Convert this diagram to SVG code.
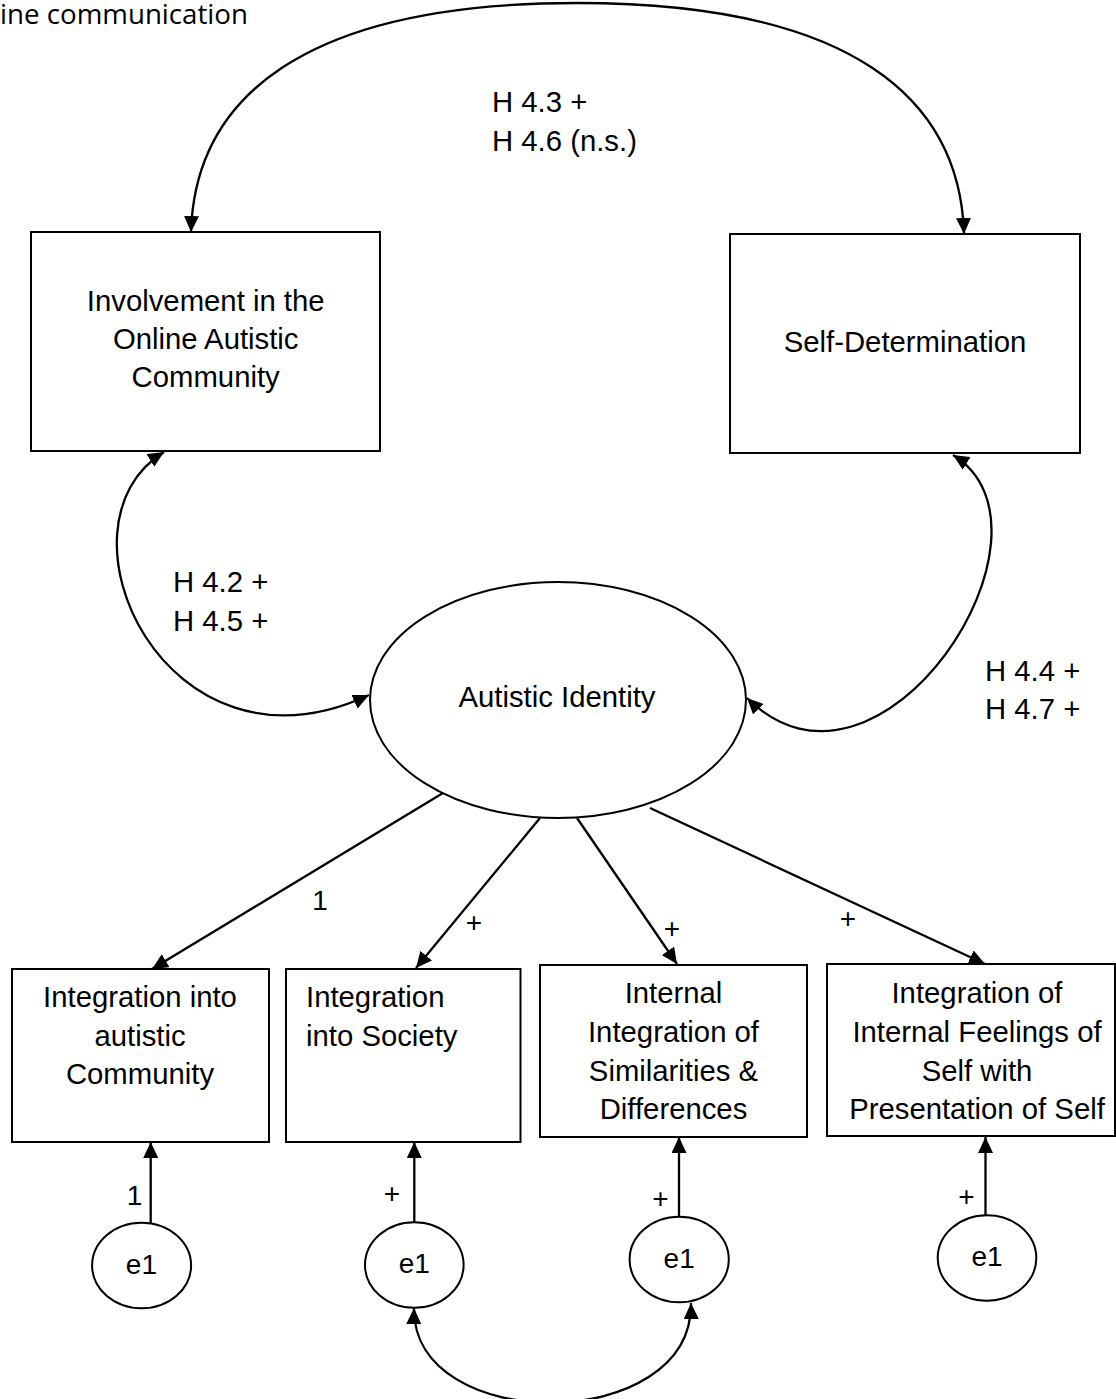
<svg xmlns="http://www.w3.org/2000/svg" width="1116" height="1399" viewBox="0 0 1116 1399">
<style>
  .box { fill: #ffffff; stroke: #000000; stroke-width: 2; }
  .ell { fill: #ffffff; stroke: #000000; stroke-width: 2; }
  .t { font-family: "Liberation Sans", Arial, sans-serif; font-size: 29.3px; fill: #000000; }
  .s { font-family: "Liberation Sans", Arial, sans-serif; font-size: 28px; fill: #000000; }
  .c { text-anchor: middle; }
  .line { fill: none; stroke: #000000; stroke-width: 2.3; }
</style>
<defs>
  <marker id="ah" markerUnits="userSpaceOnUse" viewBox="0 0 16 15" refX="16" refY="7.5" markerWidth="16" markerHeight="15" orient="auto-start-reverse">
    <path d="M0,0 L16,7.5 L0,15 z" fill="#000000"/>
  </marker>
</defs>

<text x="0" y="24" font-family="'Open Sans', 'Noto Sans', sans-serif" font-size="27.5" textLength="248" lengthAdjust="spacingAndGlyphs" fill="#000000">ine communication</text>

<g id="connectors">
  <path class="line" d="M 191 232 C 195 100, 300 3, 577 3 C 854 3, 960 100, 964 234" marker-start="url(#ah)" marker-end="url(#ah)"/>
  <path class="line" d="M 164 452 C 45 525, 165 790, 369 695" marker-start="url(#ah)" marker-end="url(#ah)"/>
  <path class="line" d="M 953 455 C 1075 530, 880 830, 747 698" marker-start="url(#ah)" marker-end="url(#ah)"/>
  <line class="line" x1="443" y1="793" x2="152" y2="969" marker-end="url(#ah)"/>
  <line class="line" x1="540" y1="818" x2="416" y2="968" marker-end="url(#ah)"/>
  <line class="line" x1="577" y1="818" x2="677" y2="964" marker-end="url(#ah)"/>
  <line class="line" x1="650" y1="808" x2="985" y2="964" marker-end="url(#ah)"/>
  <line class="line" x1="150.7" y1="1223" x2="150.7" y2="1142" marker-end="url(#ah)"/>
  <line class="line" x1="414.3" y1="1222" x2="414.3" y2="1142" marker-end="url(#ah)"/>
  <line class="line" x1="679" y1="1217" x2="679" y2="1137" marker-end="url(#ah)"/>
  <line class="line" x1="985.5" y1="1220" x2="985.5" y2="1137" marker-end="url(#ah)"/>
  <path class="line" d="M 414 1308 C 412 1435, 693 1435, 691 1303" marker-start="url(#ah)" marker-end="url(#ah)"/>
  <text class="t" x="492" y="112">H 4.3 +</text>
  <text class="t" x="492" y="150.5">H 4.6 (n.s.)</text>
  <text class="t" x="173" y="592">H 4.2 +</text>
  <text class="t" x="173" y="630.5">H 4.5 +</text>
  <text class="t" x="985" y="681">H 4.4 +</text>
  <text class="t" x="985" y="719">H 4.7 +</text>
  <text class="s c" x="320" y="910">1</text>
  <text class="s c" x="474" y="932">+</text>
  <text class="s c" x="672" y="938">+</text>
  <text class="s c" x="848" y="928">+</text>
  <text class="s c" x="134.5" y="1205">1</text>
  <text class="s c" x="392" y="1203">+</text>
  <text class="s c" x="660.5" y="1208">+</text>
  <text class="s c" x="966.5" y="1206">+</text>
</g>

<g id="node-involvement">
  <rect class="box" x="31" y="232" width="349" height="219"/>
  <text class="t c" x="205.7" y="310.7">Involvement in the</text>
  <text class="t c" x="205.7" y="349.3">Online Autistic</text>
  <text class="t c" x="205.7" y="387.3">Community</text>
</g>

<g id="node-selfdetermination">
  <rect class="box" x="730" y="234" width="350" height="219"/>
  <text class="t c" x="905" y="351.7">Self-Determination</text>
</g>

<g id="node-autistic-identity">
  <ellipse class="ell" cx="558" cy="700" rx="188" ry="118"/>
  <text class="t c" x="557" y="707">Autistic Identity</text>
</g>

<g id="node-integration-community">
  <rect class="box" x="12" y="969" width="257" height="173"/>
  <text class="t c" x="140" y="1007">Integration into</text>
  <text class="t c" x="140" y="1045.5">autistic</text>
  <text class="t c" x="140" y="1084">Community</text>
</g>

<g id="node-integration-society">
  <rect class="box" x="286" y="969" width="234.5" height="173"/>
  <text class="t" x="306" y="1007">Integration</text>
  <text class="t" x="306" y="1045.5">into Society</text>
</g>

<g id="node-internal-integration">
  <rect class="box" x="540" y="965" width="267" height="172"/>
  <text class="t c" x="673.5" y="1003">Internal</text>
  <text class="t c" x="673.5" y="1042">Integration of</text>
  <text class="t c" x="673.5" y="1081">Similarities &amp;</text>
  <text class="t c" x="673.5" y="1119">Differences</text>
</g>

<g id="node-internal-feelings">
  <rect class="box" x="827" y="964" width="288" height="172"/>
  <text class="t c" x="977" y="1003">Integration of</text>
  <text class="t c" x="977" y="1042">Internal Feelings of</text>
  <text class="t c" x="977" y="1081">Self with</text>
  <text class="t c" x="977" y="1119">Presentation of Self</text>
</g>

<g id="node-e1-a">
  <ellipse class="ell" cx="141.6" cy="1265.5" rx="49.5" ry="42.8"/>
  <text class="s c" x="141.4" y="1273.5">e1</text>
</g>
<g id="node-e1-b">
  <ellipse class="ell" cx="414.3" cy="1265" rx="49.3" ry="42.8"/>
  <text class="s c" x="414.3" y="1273">e1</text>
</g>
<g id="node-e1-c">
  <ellipse class="ell" cx="679.2" cy="1259.5" rx="49.6" ry="42.8"/>
  <text class="s c" x="679.2" y="1267.5">e1</text>
</g>
<g id="node-e1-d">
  <ellipse class="ell" cx="987" cy="1258" rx="49.3" ry="42.8"/>
  <text class="s c" x="987" y="1265.5">e1</text>
</g>
</svg>
